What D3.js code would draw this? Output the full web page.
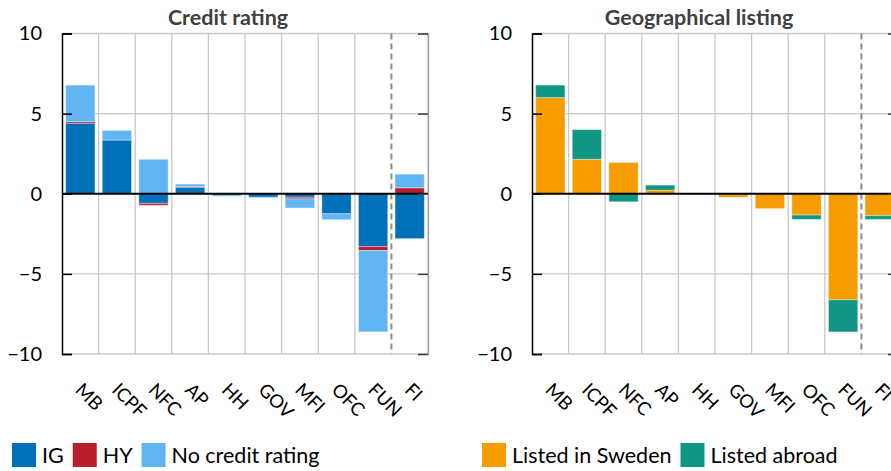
<!DOCTYPE html>
<html><head><meta charset="utf-8">
<script src="https://cdn.jsdelivr.net/npm/d3@7"></script>
<style>html,body{margin:0;padding:0;background:#fff}svg{display:block}</style>
</head><body><svg id="c" width="891" height="471"></svg>
<script>
const categories = ["MB","ICPF","NFC","AP","HH","GOV","MFI","OFC","FUN","FI"];
const yTicks = [10, 5, 0, -5, -10];
// Credit rating panel
const creditSeries = ["IG","HY","No credit rating"];
const igValues   = [4.4, 3.35, -0.6, 0.4, 0, -0.22, -0.22, -1.25, -3.3, -2.8];
const hyValues   = [0.1, 0, -0.12, 0.05, 0, 0, -0.1, 0, -0.25, 0.37];
const noRatingValues = [2.28, 0.6, 2.15, 0.15, -0.15, -0.03, -0.57, -0.37, -5.07, 0.85];
// Geographical listing panel
const geoSeries = ["Listed in Sweden","Listed abroad"];
const swedenValues = [6.0, 2.15, 1.95, 0.23, -0.05, -0.22, -0.93, -1.33, -6.62, -1.37];
const abroadValues = [0.78, 1.85, -0.5, 0.31, 0, 0, 0, -0.27, -2.0, -0.23];

const creditColors = ["#0070b8","#b81e2c","#61b5f3"];
const geoColors = ["#f59c00","#119683"];
const FONT = "Lato, 'Open Sans', sans-serif";

const svg = d3.select("#c");

function panel(opt){
  const g = svg.append("g");
  const x = d3.scaleBand().domain(categories).range([opt.x0, opt.x1]).paddingInner(0.2).paddingOuter(0.1);
  const y = d3.scaleLinear().domain([-10, 10]).range([354, 33.5]);
  const step = x.step();
  const edge = i => opt.x0 + i*step;
  // horizontal gridlines
  g.selectAll(".hg").data(yTicks.filter(t=>t!==0)).enter().append("line")
    .attr("x1", opt.x0).attr("x2", opt.x1).attr("y1", d=>y(d)).attr("y2", d=>y(d))
    .attr("stroke", "#c8c8c8").attr("stroke-width", 1.3);
  // vertical gridlines
  g.selectAll(".vg").data(d3.range(1, categories.length+1).filter(i=>i!==9)).enter().append("line")
    .attr("x1", edge).attr("x2", edge).attr("y1", y(10)).attr("y2", y(-10))
    .attr("stroke", "#c8c8c8").attr("stroke-width", 1.3);
  // stacked bars
  const rows = categories.map((c,i)=>{ const r={cat:c}; opt.series.forEach((s,j)=>r[s]=opt.values[j][i]); return r; });
  const stack = d3.stack().keys(opt.series).offset(d3.stackOffsetDiverging)(rows);
  g.selectAll(".ser").data(stack).enter().append("g").attr("fill",(d,i)=>opt.colors[i])
    .selectAll("rect").data(d=>d).enter().append("rect")
    .attr("x", d=>x(d.data.cat)).attr("width", x.bandwidth())
    .attr("y", d=>y(Math.max(d[0],d[1]))).attr("height", d=>Math.abs(y(d[0])-y(d[1])))
    .attr("stroke","#ffffff").attr("stroke-opacity",0.35).attr("stroke-width",1);
  // dashed separator
  g.append("line").attr("x1", edge(9)).attr("x2", edge(9)).attr("y1", y(10)).attr("y2", y(-10))
    .attr("stroke","#8c8c8c").attr("stroke-width",2).attr("stroke-dasharray","6,4");
  // zero line
  g.append("line").attr("x1", opt.x0).attr("x2", opt.x1).attr("y1", y(0)).attr("y2", y(0))
    .attr("stroke","#000").attr("stroke-width",2);
  // left axis
  const ax = d3.axisLeft(y).tickValues(yTicks).tickSize(-10).tickPadding(20).tickFormat(d3.format("d"));
  const ag = g.append("g").attr("transform",`translate(${opt.x0},0)`).call(ax);
  ag.select(".domain").attr("stroke","#000").attr("stroke-width",1.5);
  ag.selectAll(".tick line").attr("stroke","#000").attr("stroke-width",1.5);
  ag.selectAll(".tick text").attr("font-family",FONT).attr("font-size",20).attr("fill","#000").attr("dx", 0);
  // right ticks
  const rx = d3.axisRight(y).tickValues(yTicks).tickSize(-10).tickFormat("");
  const rg = g.append("g").attr("transform",`translate(${opt.x1},0)`).call(rx);
  rg.select(".domain").attr("stroke","#a0a0a0").attr("stroke-width",1.3);
  rg.selectAll(".tick line").attr("stroke","#404040").attr("stroke-width",1.5);
  // x labels
  g.selectAll(".xl").data(categories).enter().append("text")
    .attr("transform", d=>`translate(${x(d)+x.bandwidth()/2-6},391) rotate(45)`)
    .attr("font-family",FONT).attr("font-size",18.5).attr("fill","#000").text(d=>d);
  // title
  g.append("text").attr("x", opt.titleX).attr("y", 25).attr("text-anchor","middle")
    .attr("font-family",FONT).attr("font-weight","bold").attr("font-size",21.5).attr("fill","#404040").text(opt.title);
  // legend
  let lx = opt.legendX;
  opt.series.forEach((s,i)=>{
    g.append("rect").attr("x",lx).attr("y",443).attr("width",24).attr("height",24).attr("fill",opt.colors[i]);
    const t = g.append("text").attr("x",lx+30).attr("y",463).attr("font-family",FONT).attr("font-size",21.5).attr("fill","#000").text(s);
    lx += 30 + t.node().getComputedTextLength() + 9;
  });
}

panel({x0:62, x1:428, series:creditSeries, values:[igValues,hyValues,noRatingValues], colors:creditColors,
  title:"Credit rating", titleX:228, legendX:12});
panel({x0:532, x1:898, series:geoSeries, values:[swedenValues,abroadValues], colors:geoColors,
  title:"Geographical listing", titleX:699, legendX:482});
</script></body></html>
